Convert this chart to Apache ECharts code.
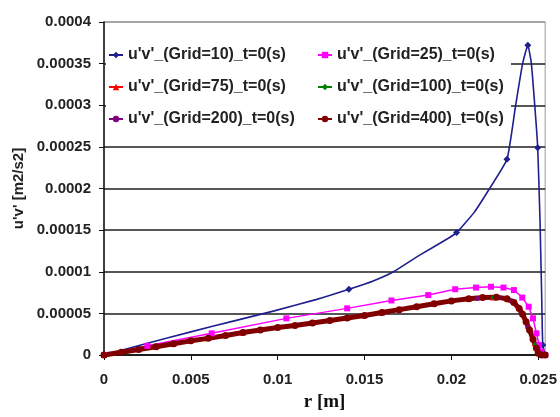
<!DOCTYPE html>
<html>
<head>
<meta charset="utf-8">
<script src="https://cdn.jsdelivr.net/npm/echarts@6/dist/echarts.min.js"></script>
<style>html,body{margin:0;padding:0;background:#fff}#c{width:560px;height:417px}</style>
</head>
<body>
<div id="c"></div>
<script>
// ---- data ----
const seriesNames = [
  "u'v'_(Grid=10)_t=0(s)", "u'v'_(Grid=25)_t=0(s)", "u'v'_(Grid=75)_t=0(s)",
  "u'v'_(Grid=100)_t=0(s)", "u'v'_(Grid=200)_t=0(s)", "u'v'_(Grid=400)_t=0(s)"
];
const xTickLabels = ['0', '0.005', '0.01', '0.015', '0.02', '0.025'];
const yTickLabels = ['0', '0.00005', '0.0001', '0.00015', '0.0002', '0.00025', '0.0003', '0.00035', '0.0004'];

const rGrid10 = [0, 0.0025, 0.005, 0.0075, 0.0098, 0.0122, 0.0141, 0.0155, 0.01667, 0.0181, 0.0198, 0.0203, 0.0213, 0.0222, 0.0232, 0.0237, 0.0241, 0.0244, 0.0246, 0.0248, 0.02497, 0.0251, 0.0252, 0.02526, 0.0254];
const uvGrid10 = [0, 0.000014, 0.0000278, 0.000041, 0.000053, 0.0000665, 0.000079, 0.000089, 0.0001, 0.000119, 0.00014, 0.000147, 0.000171, 0.0002, 0.000235, 0.0003, 0.00035, 0.000372, 0.000351, 0.0003, 0.000249, 0.000163, 0.00007, 0.000012, 0];
const rGrid10Markers = [0.0141, 0.0203, 0.0232, 0.0244, 0.02497, 0.02526];

const rGrid25 = [0, 0.0025, 0.0062, 0.0105, 0.0140, 0.01655, 0.01867, 0.02022, 0.02142, 0.02228, 0.02300, 0.02360, 0.02408, 0.02445, 0.02470, 0.02490, 0.02505, 0.02518, 0.0254];
const uvGrid25 = [0, 0.000011, 0.000026, 0.000044, 0.000056, 0.0000655, 0.000072, 0.000079, 0.000081, 0.000082, 0.000081, 0.000078, 0.000069, 0.000058, 0.000044, 0.000026, 0.000012, 0.000004, 0];

const rGrid75 = [0, 0.004, 0.008, 0.012, 0.016, 0.019, 0.021, 0.0224, 0.0233, 0.0239, 0.0244, 0.0248, 0.0251, 0.0254];
const uvGrid75 = [0, 0.0000135, 0.000027, 0.0000385, 0.000051, 0.0000615, 0.0000675, 0.000069, 0.000067, 0.000057, 0.000035, 0.000014, 0.000002, 0];

const rGrid100 = [0, 0.004, 0.008, 0.012, 0.016, 0.019, 0.021, 0.0224, 0.0233, 0.0239, 0.0244, 0.0248, 0.0251, 0.0254];
const uvGrid100 = [0, 0.0000135, 0.000027, 0.0000385, 0.000051, 0.0000615, 0.0000675, 0.000069, 0.000067, 0.000056, 0.000034, 0.000013, 0.000002, 0];

const rGrid200 = [0, 0.003, 0.006, 0.009, 0.012, 0.015, 0.018, 0.020, 0.0215, 0.0227, 0.0235, 0.0240, 0.0244, 0.0247, 0.0250, 0.0254];
const uvGrid200 = [0, 0.00001, 0.00002, 0.00003, 0.0000385, 0.0000475, 0.000058, 0.000065, 0.000068, 0.0000695, 0.000065, 0.000052, 0.000035, 0.000019, 0.000002, 0];

const rGrid400 = [0, 0.001, 0.002, 0.003, 0.004, 0.005, 0.006, 0.007, 0.008, 0.009, 0.010, 0.011, 0.012, 0.013, 0.014, 0.015, 0.016, 0.017, 0.018, 0.019, 0.020, 0.021, 0.0218, 0.0226, 0.0232, 0.0236, 0.0239, 0.0241, 0.0243, 0.0245, 0.0247, 0.0249, 0.0250, 0.0252, 0.0254];
const uvGrid400 = [0, 0.0000033, 0.0000067, 0.00001, 0.0000135, 0.000017, 0.00002, 0.0000235, 0.000027, 0.00003, 0.000033, 0.0000355, 0.0000385, 0.0000415, 0.0000445, 0.0000475, 0.000051, 0.0000545, 0.000058, 0.0000615, 0.000065, 0.0000675, 0.000069, 0.0000695, 0.0000675, 0.000063, 0.000056, 0.000049, 0.00004, 0.00003, 0.000019, 0.000008, 0.000002, 0, 0];

const xMin = 0, xMax = 0.0254, xStep = 0.005;
const yMin = 0, yMax = 0.0004, yStep = 0.00005;

// ---- chart ----
const pairs = (xs, ys) => xs.map((x, i) => [x, ys[i]]);
const fmt = v => String(Number(v.toFixed(6)));
const chart = echarts.init(document.getElementById('c'), null, {renderer: 'canvas'});
const font = 'Liberation Sans, Arial, sans-serif';
const gridCol = '#1e1e1e';
const splitColors = yTickLabels.map((t, i) => i === yTickLabels.length - 1 ? '#9a9a9a' : gridCol);

const mk = (name, xs, ys, color, symbol, size, width, extra) => Object.assign({
  name, type: 'line', data: pairs(xs, ys), symbol, symbolSize: size,
  showSymbol: true, lineStyle: {color, width}, itemStyle: {color},
  animation: false
}, extra || {});

const legendText = {fontFamily: font, fontSize: 16, fontWeight: 'bold', color: '#222'};

chart.setOption({
  animation: false,
  backgroundColor: '#fff',
  grid: {left: 104, right: 13, top: 22, bottom: 60, show: true, borderColor: '#9a9a9a', borderWidth: 1},
  graphic: [{type: 'rect', z: 1, shape: {x: 106, y: 32, width: 405, height: 108}, style: {fill: '#fff'}}],
  legend: [
    {data: [seriesNames[0], seriesNames[2], seriesNames[4]], orient: 'vertical', left: 103, top: 42,
     itemGap: 16, itemWidth: 14, itemHeight: 8, z: 5, textStyle: legendText},
    {data: [seriesNames[1], seriesNames[3], seriesNames[5]], orient: 'vertical', left: 312, top: 42,
     itemGap: 16, itemWidth: 14, itemHeight: 8, z: 5, textStyle: legendText}
  ],
  xAxis: {
    type: 'value', min: xMin, max: xMax, interval: xStep,
    name: 'r [m]', nameLocation: 'middle', nameGap: 38,
    nameTextStyle: {fontFamily: 'Liberation Serif, Times New Roman, serif', fontSize: 19, fontWeight: 'bold', color: '#111'},
    axisLine: {show: true, lineStyle: {color: '#111', width: 1.5}},
    axisTick: {show: true, length: 5, lineStyle: {color: '#111'}},
    axisLabel: {showMaxLabel: false, margin: 17, fontFamily: font, fontSize: 15, fontWeight: 'bold', color: '#222',
      formatter: v => { const i = Math.round(v / xStep); return xTickLabels[i] !== undefined && Math.abs(v - i * xStep) < 1e-9 ? xTickLabels[i] : ''; }},
    splitLine: {show: false}
  },
  yAxis: {
    type: 'value', min: yMin, max: yMax, interval: yStep,
    name: "u'v' [m2/s2]", nameLocation: 'middle', nameGap: 72, nameRotate: 90,
    nameTextStyle: {fontFamily: font, fontSize: 15, fontWeight: 'bold', color: '#222'},
    axisLine: {show: true, lineStyle: {color: '#111', width: 1.5}},
    axisTick: {show: true, length: 5, lineStyle: {color: '#111'}},
    axisLabel: {margin: 13, fontFamily: font, fontSize: 15, fontWeight: 'bold', color: '#222',
      formatter: v => { const i = Math.round(v / yStep); return yTickLabels[i] !== undefined ? yTickLabels[i] : fmt(v); }},
    splitLine: {show: true, lineStyle: {color: splitColors, width: 1.5}}
  },
  series: [
    mk(seriesNames[0], rGrid10, uvGrid10, '#1f1f8f', 'diamond',
       v => rGrid10Markers.includes(v[0]) ? 7 : 0, 1.6, {smooth: 0.15, z: 3}),
    mk(seriesNames[1], rGrid25, uvGrid25, '#ff00ff', 'rect', 6, 1.5),
    mk(seriesNames[2], rGrid75, uvGrid75, '#ff0000', 'triangle', 6, 1.5),
    mk(seriesNames[3], rGrid100, uvGrid100, '#008000', 'diamond', 5, 1.5),
    mk(seriesNames[4], rGrid200, uvGrid200, '#800080', 'circle', 5, 1.5),
    mk(seriesNames[5], rGrid400, uvGrid400, '#800000', 'circle', 7, 5)
  ]
});
</script>
</body>
</html>
